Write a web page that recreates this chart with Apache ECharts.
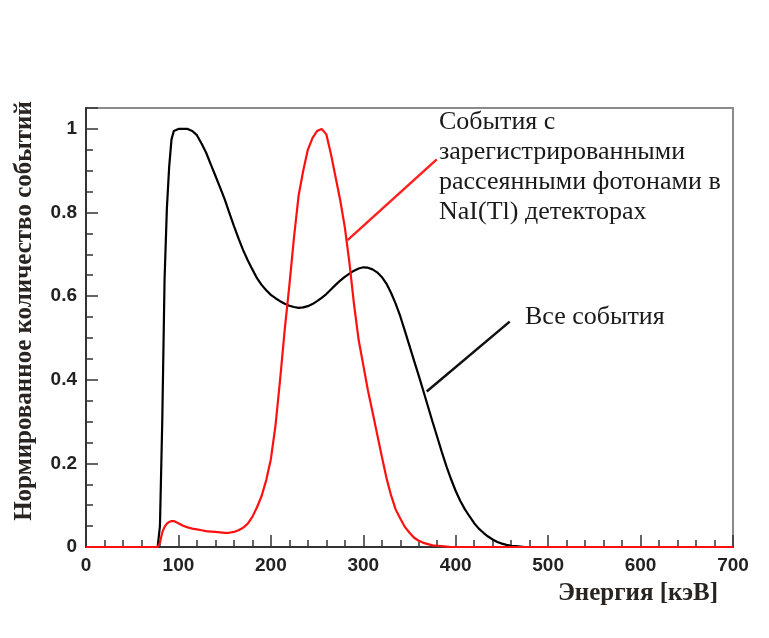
<!DOCTYPE html>
<html>
<head>
<meta charset="utf-8">
<script src="https://cdn.jsdelivr.net/npm/echarts@6/dist/echarts.min.js"></script>
<style>
  html, body { margin: 0; padding: 0; background: #fff; }
  #chart { width: 769px; height: 638px; }
</style>
</head>
<body>
<div id="chart"></div>
<script>
// Energy bin centres, keV (finer bins across the sharp threshold near 80 keV)
const energyKeV = [
  0, 75, 77.5, 80, 82.5, 85, 87.5, 90, 92.5, 95,
  100, 105, 110, 115, 120, 125, 130, 135, 140, 145,
  150, 155, 160, 165, 170, 175, 180, 185, 190, 195,
  200, 205, 210, 215, 220, 225, 230, 235, 240, 245,
  250, 255, 260, 265, 270, 275, 280, 285, 290, 295,
  300, 305, 310, 315, 320, 325, 330, 335, 340, 345,
  350, 355, 360, 365, 370, 375, 380, 385, 390, 395,
  400, 405, 410, 415, 420, 425, 430, 435, 440, 445,
  450, 455, 460, 465, 470, 475, 480, 700
];

// All events, normalised
const allEvents = [
  0, 0, 0, 0.05, 0.30, 0.64, 0.81, 0.91, 0.975, 0.995,
  1.0, 1.0, 1.0, 0.995, 0.985, 0.965, 0.943, 0.915, 0.888, 0.86,
  0.832, 0.80, 0.768, 0.738, 0.71, 0.686, 0.664, 0.643, 0.627, 0.614,
  0.603, 0.595, 0.588, 0.582, 0.577, 0.574, 0.572, 0.573, 0.576, 0.581,
  0.588, 0.596, 0.605, 0.616, 0.627, 0.637, 0.646, 0.654, 0.661, 0.666,
  0.669, 0.668, 0.664, 0.657, 0.646, 0.630, 0.608, 0.582, 0.552, 0.517,
  0.481, 0.445, 0.410, 0.373, 0.336, 0.299, 0.263, 0.227, 0.193, 0.162,
  0.134, 0.110, 0.090, 0.073, 0.057, 0.044, 0.034, 0.025, 0.018, 0.012,
  0.008, 0.005, 0.003, 0.002, 0.001, 0, 0, 0
];

// Events with scattered photons registered in the NaI(Tl) detectors, normalised
const scatteredEvents = [
  0, 0, 0, 0.01, 0.035, 0.048, 0.056, 0.06, 0.062, 0.062,
  0.057, 0.051, 0.047, 0.044, 0.042, 0.04, 0.038, 0.037, 0.036, 0.035,
  0.034, 0.034, 0.036, 0.04, 0.046, 0.056, 0.072, 0.095, 0.122, 0.16,
  0.21, 0.29, 0.40, 0.52, 0.625, 0.74, 0.84, 0.90, 0.95, 0.978,
  0.995, 1.0, 0.987, 0.94, 0.885, 0.83, 0.765, 0.68, 0.58, 0.495,
  0.435, 0.375, 0.323, 0.27, 0.217, 0.166, 0.124, 0.09, 0.068, 0.048,
  0.034, 0.022, 0.015, 0.01, 0.007, 0.004, 0.003, 0.002, 0.001, 0,
  0, 0, 0, 0, 0, 0, 0, 0, 0, 0,
  0, 0, 0, 0, 0, 0, 0, 0
];

// Pointer lines from the captions to the curves, in data coordinates [keV, value]
const scatteredPointer = [[283, 0.734], [379.5, 0.927]];
const allPointer = [[368.6, 0.372], [458.4, 0.539]];

const scatteredCaption = 'События с\nзарегистрированными\nрассеянными фотонами в\nNaI(Tl) детекторах';
const allCaption = 'Все события';
const xTitle = 'Энергия [кэВ]';
const yTitle = 'Нормированное количество событий';

const pairs = (xs, ys) => xs.map((x, i) => [x, ys[i]]);

const axisColor = '#333';
const tickFont = { fontFamily: 'Liberation Sans', fontWeight: 'bold', fontSize: 19, color: '#222' };

const chart = echarts.init(document.getElementById('chart'), null, { renderer: 'canvas' });

chart.setOption({
  animation: false,
  backgroundColor: '#fff',
  grid: {
    left: 86, top: 108, width: 647, height: 439,
    show: true, borderColor: '#8a8a8a', borderWidth: 2, backgroundColor: 'transparent'
  },
  xAxis: [
    {
      type: 'value', min: 0, max: 700, interval: 100,
      axisLine: { show: true, lineStyle: { color: axisColor, width: 2 } },
      axisTick: { show: true, inside: true, length: 12, lineStyle: { color: axisColor, width: 1.5 } },
      axisLabel: Object.assign({ margin: 9 }, tickFont),
      splitLine: { show: false }
    },
    {
      type: 'value', min: 0, max: 700, interval: 20, position: 'bottom',
      axisLine: { show: false },
      axisTick: { show: true, inside: true, length: 7, lineStyle: { color: axisColor, width: 1.5 } },
      axisLabel: { show: false },
      splitLine: { show: false }
    }
  ],
  yAxis: [
    {
      type: 'value', min: 0, max: 1.05, interval: 0.2,
      axisLine: { show: true, lineStyle: { color: axisColor, width: 2 } },
      axisTick: { show: true, inside: true, length: 12, lineStyle: { color: axisColor, width: 1.5 } },
      axisLabel: Object.assign({
        margin: 9,
        formatter: v => (v > 1.001 ? '' : String(Math.round(v * 10) / 10))
      }, tickFont),
      splitLine: { show: false }
    },
    {
      type: 'value', min: 0, max: 1.05, interval: 0.05, position: 'left',
      axisLine: { show: false },
      axisTick: { show: true, inside: true, length: 7, lineStyle: { color: axisColor, width: 1.5 } },
      axisLabel: { show: false },
      splitLine: { show: false }
    }
  ],
  series: [
    {
      name: allCaption,
      type: 'line', showSymbol: false, clip: false,
      data: pairs(energyKeV, allEvents),
      lineStyle: { color: '#000', width: 2.2 },
      itemStyle: { color: '#000' },
      markLine: {
        silent: true, symbol: 'none', label: { show: false },
        lineStyle: { color: '#111', width: 2.5, type: 'solid' },
        data: [[{ coord: allPointer[0] }, { coord: allPointer[1] }]]
      },
      z: 3
    },
    {
      name: 'События с зарегистрированными рассеянными фотонами',
      type: 'line', showSymbol: false, clip: false,
      data: pairs(energyKeV, scatteredEvents),
      lineStyle: { color: '#ff1010', width: 2.2 },
      itemStyle: { color: '#ff1010' },
      markLine: {
        silent: true, symbol: 'none', label: { show: false },
        lineStyle: { color: '#ff2020', width: 2.5, type: 'solid' },
        data: [[{ coord: scatteredPointer[0] }, { coord: scatteredPointer[1] }]]
      },
      z: 4
    }
  ],
  graphic: [
    {
      type: 'text', left: 439, top: 107, z: 10,
      style: {
        text: scatteredCaption,
        font: '26px "Liberation Serif"', lineHeight: 30, fill: '#1a1a1a'
      }
    },
    {
      type: 'text', left: 525, top: 302, z: 10,
      style: { text: allCaption, font: '26px "Liberation Serif"', lineHeight: 30, fill: '#1a1a1a' }
    },
    {
      type: 'text', x: 718, y: 594, z: 10,
      style: {
        text: xTitle, font: 'bold 25px "Liberation Serif"', fill: '#2a2420',
        align: 'right', verticalAlign: 'middle'
      }
    },
    {
      type: 'text', x: 25, y: 311, rotation: Math.PI / 2, z: 10,
      style: {
        text: yTitle, font: 'bold 25px "Liberation Serif"', fill: '#2a2420',
        align: 'center', verticalAlign: 'middle'
      }
    }
  ]
});
</script>
</body>
</html>
